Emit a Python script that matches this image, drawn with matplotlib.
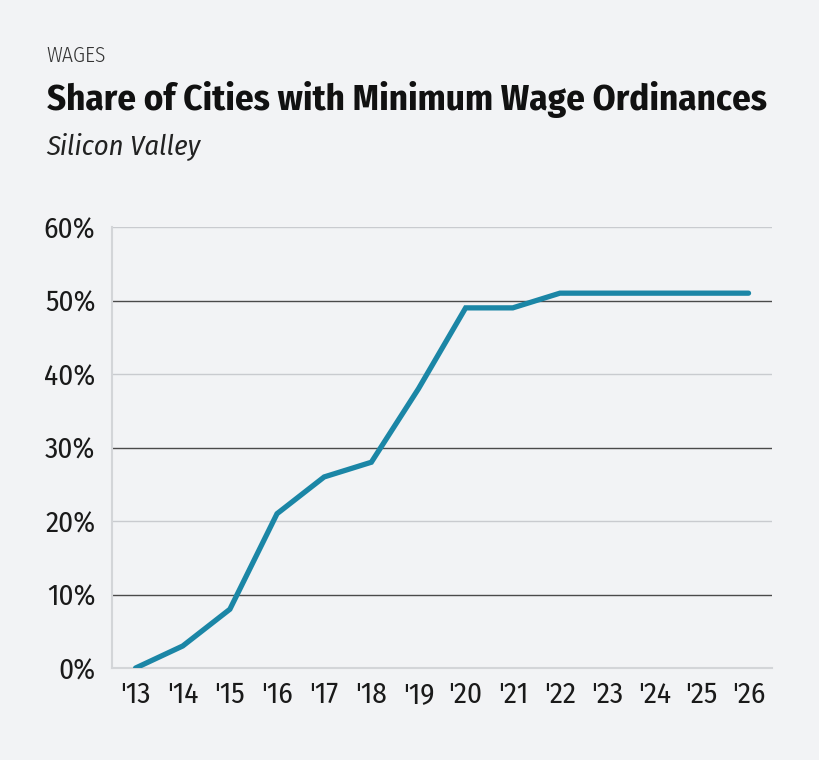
import matplotlib
matplotlib.use("Agg")
import matplotlib.pyplot as plt

years = ["'13", "'14", "'15", "'16", "'17", "'18", "'19", "'20", "'21", "'22", "'23", "'24", "'25", "'26"]
share = [0, 3, 8, 21, 26, 28, 38, 49, 49, 51, 51, 51, 51, 51]
yticks = [0, 10, 20, 30, 40, 50, 60]

bg = "#f2f3f5"
line_color = "#1b86a6"
plt.rcParams["font.family"] = ["Fira Sans Condensed", "DejaVu Sans"]

fig = plt.figure(figsize=(8.2, 7.6), dpi=100, facecolor=bg)
ax = fig.add_axes([0.1366, 0.121, 0.805, 0.5803], facecolor=bg)

# gridlines (alternating shades as in the original)
for v in yticks[1:]:
    col = "#4a4a4a" if v in (10, 30, 50) else "#c9cbcf"
    ax.axhline(v, color=col, lw=1.0, zorder=1)

ax.plot(range(len(years)), share, color=line_color, lw=3.8,
        solid_capstyle="round", solid_joinstyle="miter", zorder=3)

ax.set_xlim(-0.5, len(years) - 0.5)
ax.set_ylim(0, 60)
ax.set_xticks(range(len(years)))
ax.set_xticklabels(years)
ax.set_yticks(yticks)
ax.set_yticklabels([f"{v}%" for v in yticks])
ax.tick_params(axis="both", length=0, labelsize=21, colors="#1a1a1a")
ax.tick_params(axis="y", pad=12)
ax.tick_params(axis="x", pad=9)

for side in ["top", "right"]:
    ax.spines[side].set_visible(False)
ax.spines["left"].set_color("#d3d5d8")
ax.spines["left"].set_linewidth(1.5)
ax.spines["bottom"].set_color("#d3d5d8")
ax.spines["bottom"].set_linewidth(1.5)

fig.text(0.057, 0.918, "WAGES", fontsize=15.5, fontweight=300, color="#333333", va="baseline")
fig.text(0.057, 0.855, "Share of Cities with Minimum Wage Ordinances",
         fontsize=26.6, fontweight="bold", color="#111111", va="baseline")
fig.text(0.057, 0.797, "Silicon Valley", fontsize=20.5, style="italic",
         color="#222222", va="baseline")

fig.savefig("out.png", dpi=100, facecolor=bg)
